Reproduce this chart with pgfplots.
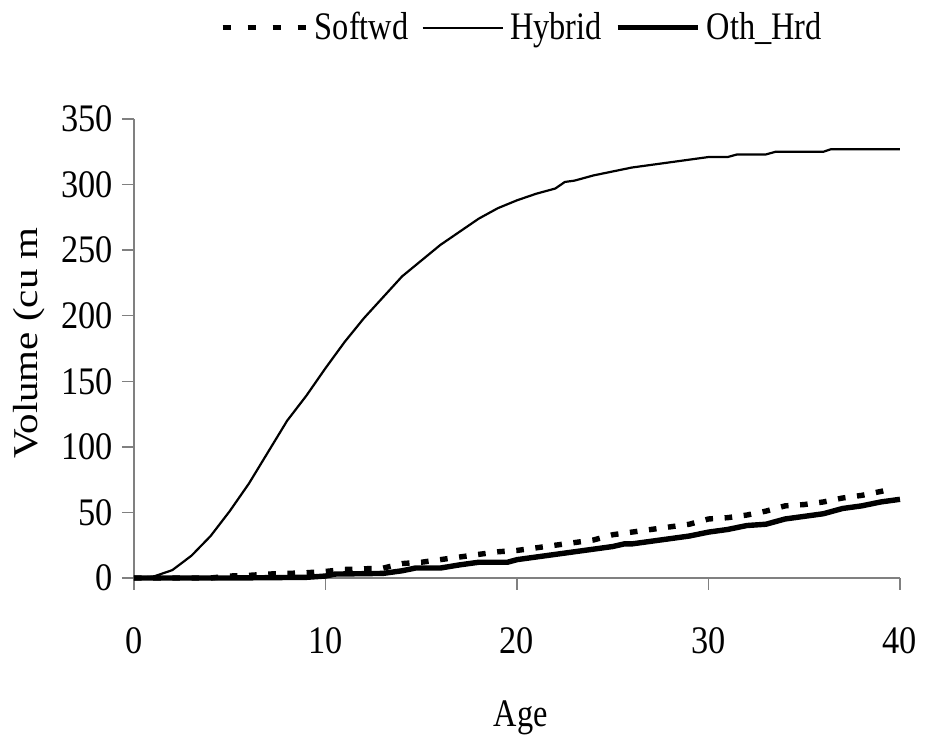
\documentclass[border=0pt]{standalone}
\usepackage{fontspec}
\setmainfont{Liberation Serif}[FakeStretch=0.83]
\newfontfamily\tickfont{Liberation Serif}[FakeStretch=0.88]
\newfontfamily\ylabfont{Liberation Serif}
\usepackage{pgfplots}
\pgfplotsset{compat=1.18}

\begin{document}
\begin{tikzpicture}[font=\fontsize{19.5}{23}\selectfont]
\begin{axis}[
    scale only axis,
    width=383pt, height=229.5pt,
    xmin=0, xmax=40, ymin=0, ymax=350,
    xtick={0,10,...,40}, ytick={0,50,...,350},
    axis lines=left,
    axis line style={-, draw=gray, line width=0.65pt},
    tick style={draw=gray, line width=0.65pt},
    tick align=outside,
    major tick length=6pt,
    /pgf/number format/assume math mode=true,
    ticklabel style={font=\tickfont\fontsize{19.5}{23}\selectfont, inner sep=0pt},
    yticklabel style={xshift=-4.5pt},
    xticklabel style={yshift=-18.5pt},
    clip=false,
    xlabel={Age},
    xlabel style={at={(axis description cs:0.505,-0.324)}, anchor=base},
    ylabel={\ylabfont\scalebox{1}[0.85]{\fontsize{20.5}{24}\selectfont Volume (cu m}},
    ylabel style={at={(axis description cs:-0.1266,0.512)}, anchor=base},
    legend columns=3,
    legend style={draw=none, fill=none, inner sep=0pt,
        at={(axis description cs:0.505,1.199)}, anchor=center,
        font=\fontsize{19.5}{23}\selectfont,
        nodes={inner sep=0pt},
        /tikz/every odd column/.append style={column sep=3.25pt},
        /tikz/every even column/.append style={column sep=6.5pt}},
    legend image code/.code={\draw[#1] (0pt,0pt) -- (40pt,0pt);},
]
\addplot[black, line width=2.7pt, dash pattern=on 3.8pt off 5.8pt,
    legend image code/.code={\draw[black, line width=2.7pt, dash pattern=on 4pt off 8.5pt] (0pt,0pt) -- (41.6pt,0pt);}]
coordinates {
(0,0) (1,0) (2,0) (3,0) (4,0) (5,1.5) (6,2) (7,3) (8,3.5) (9,4) (10,5)
(11,6.5) (12,7) (13,7.5) (14,11) (15,12) (16,14) (17,16) (18,18) (19,20)
(20,21) (21,23) (22,25) (23,27) (24,29) (25,33) (26,35) (27,37) (28,39)
(29,41) (30,45) (31,46) (32,48) (33,51) (34,55) (35,56) (36,58) (37,61)
(38,63) (39,66) (39.6,68)
};
\addplot[black, line width=1.1pt] coordinates {
(0,0) (1,1) (2,6) (3,17) (4,32) (5,51) (6,72) (7,96) (8,120) (9,139)
(10,160) (11,180) (12,198) (13,214) (14,230) (15,242) (16,254) (17,264)
(18,274) (19,282) (20,288) (21,293) (22,297) (22.5,302) (23,303) (24,307)
(25,310) (26,313) (27,315) (28,317) (29,319) (30,321) (31,321) (31.5,323)
(33,323) (33.5,325) (36,325) (36.4,327) (40,327)
};
\addplot[black, line width=2.7pt] coordinates {
(0,0) (5,0) (9,0.5) (10,1.5) (10.5,3) (12,3.3) (13,3.5) (14,5.5) (14.7,7.6)
(16,7.6) (17,10) (18,12) (19.5,12) (20,14) (21,16) (22,18) (23,20) (24,22)
(25,24) (25.6,26) (26,26) (27,28) (28,30) (29,32) (30,35) (31,37) (32,40)
(33,41) (34,45) (35,47) (36,49) (37,53) (38,55) (39,58) (40,60)
};
\legend{Softwd, Hybrid, Oth\_Hrd}
\coordinate (O) at (rel axis cs:0,0);
\end{axis}
\pgfresetboundingbox
\path[use as bounding box] (O) ++(-67pt,-83pt) rectangle ++(463.5pt,372pt);
\end{tikzpicture}
\end{document}
